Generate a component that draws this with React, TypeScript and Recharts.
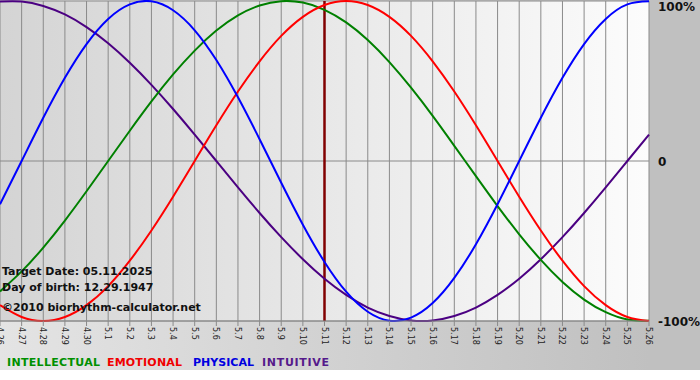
import React from 'react';
import { LineChart, Line, XAxis, YAxis, CartesianGrid, ReferenceLine } from 'recharts';

const dayLabels = ['4.26','4.27','4.28','4.29','4.30','5.1','5.2','5.3','5.4','5.5','5.6','5.7','5.8','5.9','5.10','5.11','5.12','5.13','5.14','5.15','5.16','5.17','5.18','5.19','5.20','5.21','5.22','5.23','5.24','5.25','5.26'];
const physical = [-27.0,0,27.0,52.0,73.1,88.8,97.9,99.8,94.2,81.7,63.1,39.8,13.6,-13.6,-39.8,-63.1,-81.7,-94.2,-99.8,-97.9,-88.8,-73.1,-52.0,-27.0,0,27.0,52.0,73.1,88.8,97.9,99.8];
const emotional = [-90.1,-97.5,-100,-97.5,-90.1,-78.2,-62.3,-43.4,-22.3,0,22.3,43.4,62.3,78.2,90.1,97.5,100,97.5,90.1,78.2,62.3,43.4,22.3,0,-22.3,-43.4,-62.3,-78.2,-90.1,-97.5,-100];
const intellectual = [-81.5,-69.0,-54.1,-37.2,-18.9,0,18.9,37.2,54.1,69.0,81.5,91.0,97.2,99.9,99.0,94.5,86.6,75.6,61.8,45.8,28.2,9.5,-9.5,-28.2,-45.8,-61.8,-75.6,-86.6,-94.5,-99.0,-99.9];
const intuitive = [99.7,99.7,96.9,91.6,83.7,73.6,61.4,47.6,32.5,16.5,0,-16.5,-32.5,-47.6,-61.4,-73.6,-83.7,-91.6,-96.9,-99.7,-99.7,-96.9,-91.6,-83.7,-73.6,-61.4,-47.6,-32.5,-16.5,0,16.5];
const yTicks = [-100, 0, 100];
const yLabels: Record<string, string> = { '-100': '-100%', '0': '0', '100': '100%' };
const targetIndex = 15;
const infoLines = ['Target Date: 05.11.2025', 'Day of birth: 12.29.1947', '\u00A92010 biorhythm-calculator.net'];
const legendItems = ['INTELLECTUAL', 'EMOTIONAL', 'PHYSICAL', 'INTUITIVE'];

const dayIdx = dayLabels.map((_, i) => i);
const data = dayLabels.map((label, i) => ({
  d: i,
  label,
  physical: physical[i],
  emotional: emotional[i],
  intellectual: intellectual[i],
  intuitive: intuitive[i],
}));

const FONT = '"DejaVu Sans", Verdana, sans-serif';

const XTick = (props: any) => {
  const { x, payload } = props;
  return (
    <text
      transform={`translate(${x},327) rotate(90)`}
      x={0}
      y={3}
      fontSize={8}
      fontFamily={FONT}
      fill="#222"
      textAnchor="start"
    >
      {dayLabels[payload.value]}
    </text>
  );
};

const YTick = (props: any) => {
  const { y, payload } = props;
  const v = Number(payload.value);
  return (
    <text
      x={658}
      y={y + (v === 100 ? 10 : 5)}
      fontSize={12}
      fontWeight="bold"
      fontFamily={FONT}
      fill="#111"
      textAnchor="start"
    >
      {yLabels[String(v)]}
    </text>
  );
};

export default function App() {
  const legendColors = ['#009000', '#f00000', '#0000e0', '#551a8b'];
  const legendX = [7, 107, 193, 262];
  const legendW = [93, 75, 61, 67];
  return (
    <div
      style={{
        position: 'absolute',
        left: 0,
        top: 0,
        width: 700,
        height: 370,
        background: 'linear-gradient(to right, #e4e4e4 0px, #c0c0c0 650px, #c0c0c0 700px)',
      }}
    >
      <div
        style={{
          position: 'absolute',
          left: 0,
          top: 1,
          width: 649,
          height: 320,
          background: 'linear-gradient(to right, #d4d4d4, #fcfcfc)',
        }}
      />
      <div style={{ position: 'absolute', left: 0, top: 0 }}>
        <LineChart width={700} height={370} data={data} margin={{ top: 1, right: 0, left: 0, bottom: 0 }}>
          <CartesianGrid stroke="#8a8a8a" strokeWidth={1} />
          <XAxis
            type="number"
            dataKey="d"
            domain={[0, 30]}
            ticks={dayIdx}
            interval={0}
            height={49}
            tick={<XTick />}
            tickSize={5}
            tickLine={{ stroke: '#8a8a8a' }}
            axisLine={{ stroke: '#8a8a8a' }}
          />
          <YAxis
            orientation="right"
            domain={[-100, 100]}
            ticks={yTicks}
            interval={0}
            width={51}
            axisLine={false}
            tickLine={false}
            tick={<YTick />}
          />
          <ReferenceLine x={targetIndex} stroke="#800000" strokeWidth={2.5} />
          <Line type="natural" dataKey="intuitive" stroke="#4b0082" strokeWidth={2} dot={false} isAnimationActive={false} />
          <Line type="natural" dataKey="intellectual" stroke="#008000" strokeWidth={2} dot={false} isAnimationActive={false} />
          <Line type="natural" dataKey="emotional" stroke="#ff0000" strokeWidth={2} dot={false} isAnimationActive={false} />
          <Line type="natural" dataKey="physical" stroke="#0000ff" strokeWidth={2} dot={false} isAnimationActive={false} />
        </LineChart>
      </div>
      <svg
        width={700}
        height={370}
        style={{ position: 'absolute', left: 0, top: 0, pointerEvents: 'none' }}
      >
        {infoLines.map((t, i) => (
          <text
            key={t}
            x={2}
            y={[275, 291, 311][i]}
            fontSize={11}
            fontWeight="bold"
            fontFamily={FONT}
            fill="#111"
          >
            {t}
          </text>
        ))}
        {legendItems.map((t, i) => (
          <text
            key={t}
            x={legendX[i]}
            y={366}
            fontSize={11}
            fontWeight="bold"
            fontFamily={FONT}
            fill={legendColors[i]}
            textLength={legendW[i]}
            lengthAdjust="spacing"
          >
            {t}
          </text>
        ))}
      </svg>
    </div>
  );
}
